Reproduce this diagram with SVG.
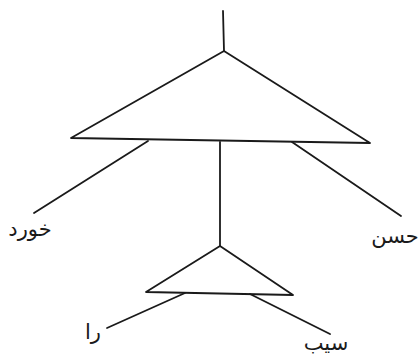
<svg xmlns="http://www.w3.org/2000/svg" width="418" height="357" viewBox="0 0 418 357">
<style>
.l{stroke:#1a1a1a;stroke-width:1.8;fill:none;stroke-linecap:round;stroke-linejoin:round}
.t{font-family:"DejaVu Sans",sans-serif;font-size:21px;fill:#1a1a1a;text-anchor:middle;direction:rtl}
</style>
<rect width="418" height="357" fill="#fff"/>
<g id="connectors">
<line class="l" x1="223" y1="11" x2="224" y2="51"/>
<line class="l" x1="148" y1="141" x2="34" y2="213"/>
<line class="l" x1="220" y1="142" x2="220" y2="246"/>
<line class="l" x1="292" y1="142" x2="401" y2="216"/>
<line class="l" x1="185" y1="293" x2="107" y2="328"/>
<line class="l" x1="250" y1="294" x2="330" y2="334"/>
</g>
<g id="big-triangle"><polygon class="l" points="224,51 71,138 370,143"/></g>
<g id="small-triangle"><polygon class="l" points="220,246 146,292 293,295"/></g>
<g id="khord"><text class="t" x="30" y="236">خورد</text></g>
<g id="hasan"><text class="t" x="395" y="243">حسن</text></g>
<g id="ra"><text class="t" x="93" y="339">را</text></g>
<g id="sib"><text class="t" x="326" y="350">سیب</text></g>
</svg>
